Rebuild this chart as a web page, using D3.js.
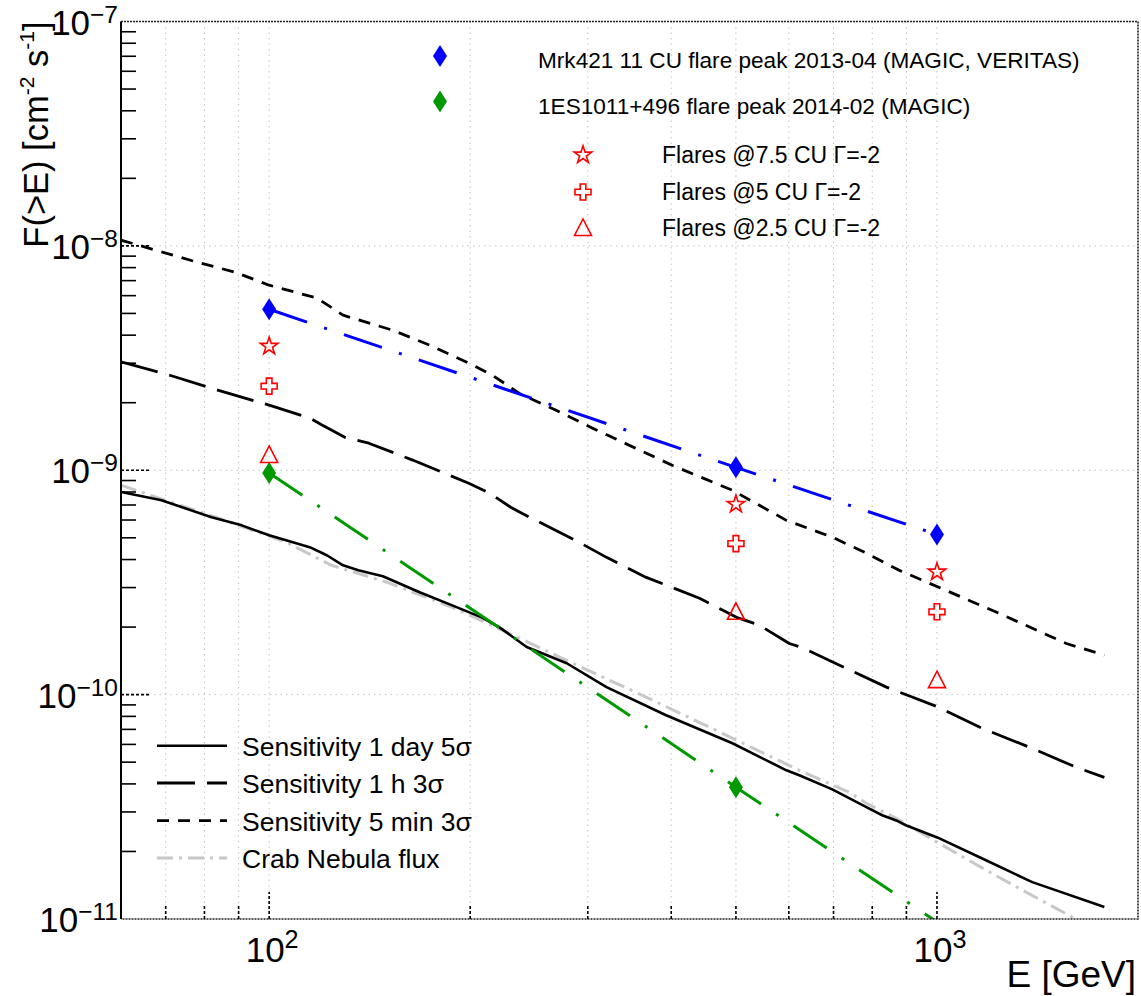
<!DOCTYPE html>
<html>
<head>
<meta charset="utf-8">
<script src="https://cdn.jsdelivr.net/npm/d3@7"></script>
<style>
  html, body { margin: 0; padding: 0; background: #fff; }
  svg { display: block; font-family: "Liberation Sans", Arial, Helvetica, sans-serif; }
</style>
</head>
<body>
<svg id="chart" width="1141" height="996"></svg>
<script>
// Integral sensitivity curves, F(>E) in cm^-2 s^-1 versus E in GeV
const sens1dayE = [60, 69, 82, 91, 100, 115, 122, 129, 136, 148, 168, 188, 208, 221, 243, 279, 320, 393, 494, 595, 622, 697, 784, 828, 869, 900, 1001, 1169, 1389, 1781];
const sens1dayF = [8.00e-10, 7.35e-10, 6.17e-10, 5.68e-10, 5.13e-10, 4.54e-10, 4.18e-10, 3.77e-10, 3.58e-10, 3.37e-10, 2.86e-10, 2.50e-10, 2.21e-10, 2.00e-10, 1.63e-10, 1.38e-10, 1.08e-10, 8.09e-11, 6.07e-11, 4.60e-11, 4.37e-11, 3.78e-11, 3.15e-11, 2.90e-11, 2.75e-11, 2.61e-11, 2.31e-11, 1.86e-11, 1.46e-11, 1.13e-11];

const sens1hE = [60, 71, 84, 100, 115, 120, 130, 141, 164, 199, 214, 230, 239, 272, 291, 320, 367, 441, 501, 542, 601, 628, 840, 998, 1169, 1389, 1617, 1781];
const sens1hF = [3.04e-9, 2.65e-9, 2.27e-9, 1.95e-9, 1.71e-9, 1.59e-9, 1.40e-9, 1.32e-9, 1.11e-9, 8.75e-10, 7.89e-10, 6.84e-10, 6.43e-10, 5.29e-10, 4.78e-10, 4.09e-10, 3.33e-10, 2.69e-10, 2.21e-10, 2.04e-10, 1.69e-10, 1.62e-10, 1.08e-10, 8.87e-11, 7.08e-11, 5.76e-11, 4.74e-11, 4.28e-11];

const sens5minE = [60, 64.5, 78, 89, 100, 118, 129, 153, 174, 199, 216, 237, 269, 305, 402, 494, 595, 697, 784, 878, 998, 1240, 1562, 1781];
const sens5minF = [1.06e-8, 9.97e-9, 8.46e-9, 7.63e-9, 6.68e-9, 5.85e-9, 4.91e-9, 4.21e-9, 3.61e-9, 3.00e-9, 2.65e-9, 2.20e-9, 1.85e-9, 1.54e-9, 1.05e-9, 8.14e-10, 5.98e-10, 5.03e-10, 4.27e-10, 3.58e-10, 3.04e-10, 2.30e-10, 1.69e-10, 1.50e-10];

const crabE = [60, 84, 106, 124, 150, 188, 232, 279, 362, 467, 622, 739, 784, 869, 1008, 1240, 1617, 1780];
const crabF = [8.57e-10, 6.11e-10, 4.78e-10, 3.77e-10, 3.17e-10, 2.45e-10, 1.84e-10, 1.42e-10, 9.93e-11, 6.93e-11, 4.60e-11, 3.67e-11, 3.28e-11, 2.81e-11, 2.17e-11, 1.53e-11, 9.96e-12, 8.4e-12];

// Flare peaks and reference flares
const flareE = [100, 500, 1000];
const mrk421F = [5.22e-9, 1.03e-9, 5.17e-10];
const es1011F = [9.73e-10, 3.87e-11, 9.7e-12];
const flare75F = [3.57e-9, 7.05e-10, 3.52e-10];
const flare5F = [2.37e-9, 4.71e-10, 2.34e-10];
const flare25F = [1.17e-9, 2.34e-10, 1.16e-10];

// Axis ticks
const xMajorTicks = [100, 1000];
const xMinorTicks = [70, 80, 90, 200, 300, 400, 500, 600, 700, 800, 900];
const xTickExponents = ["2", "3"];
const yMajorTicks = [1e-10, 1e-9, 1e-8];
const yLabelTicks = [1e-11, 1e-10, 1e-9, 1e-8, 1e-7];
const yTickExponents = ["−11", "−10", "−9", "−8", "−7"];

// Legend texts
const curveLabels = ["Sensitivity 1 day 5σ", "Sensitivity 1 h 3σ", "Sensitivity 5 min 3σ", "Crab Nebula flux"];
const peakLabels = ["Mrk421 11 CU flare peak 2013-04 (MAGIC, VERITAS)", "1ES1011+496 flare peak 2014-02 (MAGIC)"];
const flareLabels = ["Flares @7.5 CU Γ=-2", "Flares @5 CU Γ=-2", "Flares @2.5 CU Γ=-2"];

const svg = d3.select("#chart");
const L = 121, R = 1138, T = 21.5, B = 919;

const x = d3.scaleLog().domain([60, 2000]).range([L, R]);
const y = d3.scaleLog().domain([1e-11, 1e-7]).range([B, T]);

svg.append("rect").attr("width", 1141).attr("height", 996).attr("fill", "#fff");

svg.append("defs").append("clipPath").attr("id", "plotclip")
  .append("rect").attr("x", L).attr("y", T).attr("width", R - L).attr("height", B - T);

// Grid
const grid = svg.append("g").attr("stroke", "#c4c4c4").attr("stroke-width", 1).attr("stroke-dasharray", "1.5,4");
xMajorTicks.concat(xMinorTicks).forEach(e => {
  grid.append("line").attr("x1", x(e)).attr("x2", x(e)).attr("y1", T).attr("y2", B);
});
yMajorTicks.forEach(f => {
  grid.append("line").attr("x1", L).attr("x2", R).attr("y1", y(f)).attr("y2", y(f));
});

const plot = svg.append("g").attr("clip-path", "url(#plotclip)");
const line = d3.line().x(d => x(d[0])).y(d => y(d[1]));
const zip = (a, b) => a.map((v, i) => [v, b[i]]);

const styles = {
  day: { stroke: "#000", width: 2.6, dash: null },
  hour: { stroke: "#000", width: 2.8, dash: "38,12" },
  min: { stroke: "#000", width: 2.8, dash: "12,9" },
  crab: { stroke: "#c8c8c8", width: 3, dash: "16,6,3,6" }
};

function drawCurve(data, st) {
  plot.append("path").attr("d", line(data)).attr("fill", "none")
    .attr("stroke", st.stroke).attr("stroke-width", st.width)
    .attr("stroke-dasharray", st.dash).attr("stroke-linejoin", "round");
}
drawCurve(zip(crabE, crabF), styles.crab);
drawCurve(zip(sens1dayE, sens1dayF), styles.day);
drawCurve(zip(sens1hE, sens1hF), styles.hour);
drawCurve(zip(sens5minE, sens5minF), styles.min);

// Flare peak lines
const peakDash = "40,18,3,18";
plot.append("path").attr("d", line(zip(flareE, mrk421F))).attr("fill", "none")
  .attr("stroke", "#0000ff").attr("stroke-width", 3).attr("stroke-dasharray", peakDash);
plot.append("path").attr("d", line(zip(flareE, es1011F))).attr("fill", "none")
  .attr("stroke", "#009900").attr("stroke-width", 3).attr("stroke-dasharray", peakDash);

// Marker shapes
const diamondPath = "M0,-11L7,0L0,11L-7,0Z";
const crossPath = (() => {
  const a = 2.8, b = 8;
  return `M${-a},${-b}H${a}V${-a}H${b}V${a}H${a}V${b}H${-a}V${a}H${-b}V${-a}H${-a}Z`;
})();
const trianglePath = "M0,-9L8.5,7.5H-8.5Z";
const starPath = d3.symbol(d3.symbolStar, 95)();

const inside = f => f >= 1e-11 && f <= 1e-7;

function drawMarkers(vals, path, fill, stroke, sw) {
  flareE.forEach((e, i) => {
    if (!inside(vals[i])) return;
    plot.append("path").attr("d", path)
      .attr("transform", `translate(${x(e)},${y(vals[i])})`)
      .attr("fill", fill).attr("stroke", stroke).attr("stroke-width", sw);
  });
}
drawMarkers(mrk421F, diamondPath, "#0000ff", "none", 0);
drawMarkers(es1011F, diamondPath, "#009900", "none", 0);
drawMarkers(flare75F, starPath, "none", "#ff0000", 1.6);
drawMarkers(flare5F, crossPath, "none", "#ff0000", 1.6);
drawMarkers(flare25F, trianglePath, "none", "#ff0000", 1.6);

// Frame
const frame = svg.append("g").attr("fill", "none");
frame.append("path").attr("d", `M${L},${T}H${R}V${B}H${L}`)
  .attr("stroke", "#222").attr("stroke-width", 1.6).attr("stroke-dasharray", "2,1");
frame.append("line").attr("x1", L).attr("x2", L).attr("y1", T).attr("y2", B)
  .attr("stroke", "#000").attr("stroke-width", 2);

// Y ticks
const ticks = svg.append("g").attr("stroke", "#000").attr("stroke-width", 1.6);
for (let d = -11; d < -7; d++) {
  for (let m = 2; m <= 9; m++) {
    const f = m * Math.pow(10, d);
    ticks.append("line").attr("x1", L).attr("x2", L + 15).attr("y1", y(f)).attr("y2", y(f));
  }
}
yMajorTicks.forEach(f => {
  ticks.append("line").attr("x1", L).attr("x2", L + 30).attr("y1", y(f)).attr("y2", y(f))
    .attr("stroke-dasharray", "3,2");
});
// X ticks
xMinorTicks.forEach(e => {
  ticks.append("line").attr("x1", x(e)).attr("x2", x(e)).attr("y1", B).attr("y2", B - 13)
    .attr("stroke-dasharray", "3,2");
});
xMajorTicks.forEach(e => {
  ticks.append("line").attr("x1", x(e)).attr("x2", x(e)).attr("y1", B).attr("y2", B - 27)
    .attr("stroke-dasharray", "3,2");
});

// Tick labels
const tickFont = 35;
yLabelTicks.forEach((f, i) => {
  const t = svg.append("text").attr("x", 118).attr("y", y(f) + 13)
    .attr("text-anchor", "end").attr("font-size", tickFont).attr("fill", "#000");
  t.append("tspan").text("10");
  t.append("tspan").attr("dy", -12).attr("font-size", tickFont * 0.7).text(yTickExponents[i]);
});
xMajorTicks.forEach((e, i) => {
  const t = svg.append("text").attr("x", x(e) + 3).attr("y", 962)
    .attr("text-anchor", "middle").attr("font-size", tickFont).attr("fill", "#000");
  t.append("tspan").text("10");
  t.append("tspan").attr("dy", -14).attr("font-size", tickFont * 0.72).text(xTickExponents[i]);
});

// Axis titles
svg.append("text").attr("x", 1136).attr("y", 987).attr("text-anchor", "end")
  .attr("font-size", 37).text("E [GeV]");
const yt = svg.append("text").attr("transform", `translate(48,${T}) rotate(-90)`)
  .attr("text-anchor", "end").attr("font-size", 34.5);
yt.append("tspan").text("F(>E) [cm");
yt.append("tspan").attr("dy", -14).attr("font-size", 21).text("-2");
yt.append("tspan").attr("dy", 14).text(" s");
yt.append("tspan").attr("dy", -14).attr("font-size", 21).text("-1");
yt.append("tspan").attr("dy", 14).text("]");

// Curve legend
const legRows = [745.7, 783, 820.7, 858];
const legStyles = [styles.day, styles.hour, styles.min, styles.crab];
legRows.forEach((ry, i) => {
  const st = legStyles[i];
  svg.append("line").attr("x1", 157).attr("x2", 227).attr("y1", ry).attr("y2", ry)
    .attr("stroke", st.stroke).attr("stroke-width", st.width).attr("stroke-dasharray", st.dash);
  svg.append("text").attr("x", 242).attr("y", ry + 10).attr("font-size", 26.5).text(curveLabels[i]);
});

// Peak / flare legend
const peakColors = ["#0000ff", "#009900"];
[56, 101.5].forEach((ry, i) => {
  svg.append("path").attr("d", diamondPath).attr("transform", `translate(440,${ry})`).attr("fill", peakColors[i]);
  svg.append("text").attr("x", 538).attr("y", ry + 12).attr("font-size", 22.6).text(peakLabels[i]);
});
const flarePaths = [starPath, crossPath, trianglePath];
[155, 192, 228].forEach((ry, i) => {
  svg.append("path").attr("d", flarePaths[i]).attr("transform", `translate(583,${ry})`)
    .attr("fill", "none").attr("stroke", "#ff0000").attr("stroke-width", 1.6);
  svg.append("text").attr("x", 662).attr("y", ry + 8).attr("font-size", 23).text(flareLabels[i]);
});
</script>
</body>
</html>
